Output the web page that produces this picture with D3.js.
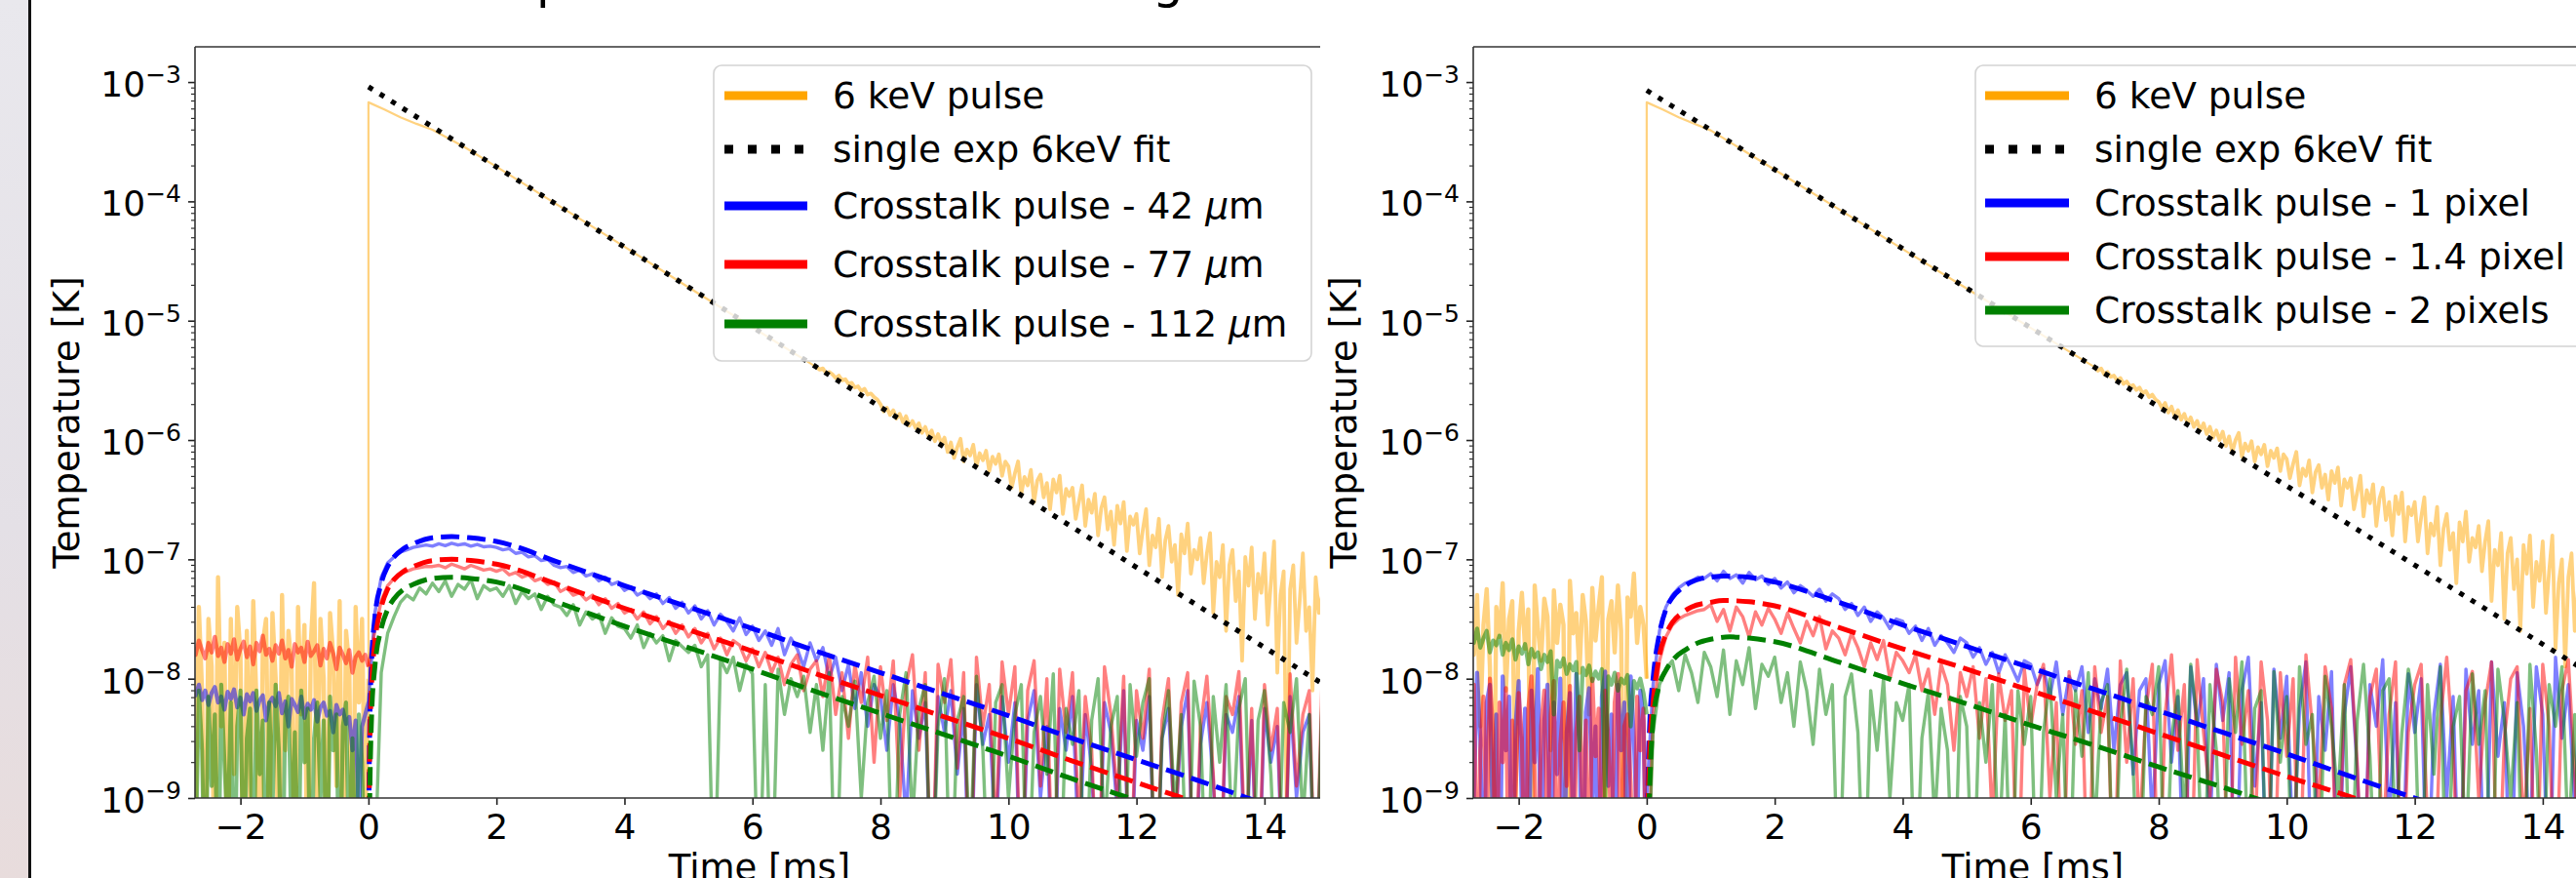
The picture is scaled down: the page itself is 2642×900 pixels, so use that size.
<!DOCTYPE html>
<html><head><meta charset="utf-8">
<script src="https://cdn.jsdelivr.net/npm/d3@7"></script>
<style>body{margin:0;background:#fff;} svg{display:block;} text{font-family:"DejaVu Sans",sans-serif;fill:#000;}</style>
</head><body><svg id="c" width="2642" height="900"></svg>
<script>
// ---------------- DATA (values are log10 of temperature in K) ----------------
const xTicks = [-2, 0, 2, 4, 6, 8, 10, 12, 14];
const yTickExps = [-3, -4, -5, -6, -7, -8, -9];
const xDomain = [-2.71, 14.87];
const yDomainExp = [-9, -2.705];
const PRE_STEP = 0.05, POST_STEP = 0.1, TAIL_START = 7.0, TAIL_STEP = 0.05;

const leftLabels = ["6 keV pulse", "single exp 6keV fit", "Crosstalk pulse - 42 ", "Crosstalk pulse - 77 ", "Crosstalk pulse - 112 "];
const leftUnits = ["", "", "\u03bc", "\u03bc", "\u03bc"];
const rightLabels = ["6 keV pulse", "single exp 6keV fit", "Crosstalk pulse - 1 pixel", "Crosstalk pulse - 1.4 pixel", "Crosstalk pulse - 2 pixels"];

// ----- left panel -----
const leftOrangePre = [-7.6,-9.2,-7.4,-8.1,-10,-7.5,-7.9,-10,-7.15,-8.4,-7.7,-10,-7.5,-8.8,-7.4,-7.8,-10,-7.6,-9.0,-7.35,-8.2,-10,-7.7,-7.5,-9.5,-7.45,-8.0,-10,-7.3,-8.6,-7.6,-7.9,-10,-7.4,-8.3,-7.55,-10,-7.7,-7.2,-9.1,-7.5,-8.0,-10,-7.45,-7.8,-8.9,-7.35,-10,-7.6,-7.9,-10,-7.4,-8.2,-7.5,-9.3,-8.0];
const leftOrangeHead = [[0,-3.17],[0.25,-3.23],[0.5,-3.295],[0.75,-3.35],[1,-3.40],[1.5,-3.545],[2,-3.71],[3,-4.045],[4,-4.38],[5,-4.72],[6,-5.055],[7,-5.39]];
const leftOrangeTail = [
-5.39,-5.41,-5.40,-5.44,-5.43,-5.45,-5.48,-5.46,-5.50,-5.49,-5.53,-5.52,-5.56,-5.55,-5.59,-5.57,-5.62,-5.61,-5.64,-5.66,
-5.70,-5.76,-5.73,-5.79,-5.75,-5.82,-5.78,-5.85,-5.80,-5.88,-5.84,-5.90,-5.86,-5.94,-5.89,-5.97,-5.92,-6.01,-5.95,-6.03,
-5.98,-6.10,-6.02,-6.15,-6.06,-5.99,-6.18,-6.08,-6.13,-6.04,-6.22,-6.11,-6.17,-6.09,-6.26,-6.14,-6.20,-6.12,-6.30,-6.18,
-6.22,-6.40,-6.28,-6.18,-6.45,-6.31,-6.38,-6.25,-6.52,-6.34,-6.29,-6.48,-6.36,-6.58,-6.33,-6.44,-6.30,-6.62,-6.41,-6.47,
-6.40,-6.66,-6.52,-6.38,-6.72,-6.50,-6.61,-6.45,-6.80,-6.57,-6.48,-6.75,-6.60,-6.88,-6.55,-6.70,-6.52,-6.93,-6.64,-6.71,
-6.62,-6.95,-6.75,-6.58,-7.05,-6.80,-6.90,-6.66,-7.15,-6.84,-6.72,-7.02,-6.88,-7.30,-6.79,-6.95,-6.70,-7.12,-6.92,-7.00,
-6.82,-7.20,-6.95,-6.78,-7.45,-7.02,-7.15,-6.88,-7.60,-7.05,-6.92,-7.35,-7.10,-7.85,-6.98,-7.22,-6.90,-7.50,-7.12,-7.28,
-6.95,-7.55,-7.20,-6.85,-7.95,-7.30,-7.10,-9.20,-7.25,-7.05,-7.70,-7.35,-6.95,-7.60,-7.40,-8.10,-7.15,-7.45,-7.30];
const leftBluePre = [-8.08,-8.14,-8.05,-8.18,-8.10,-8.22,-8.12,-8.07,-8.20,-8.15,-8.26,-8.11,-8.17,-8.09,-8.24,-8.16,-8.30,-8.13,-8.19,-8.12,-8.27,-8.18,-8.14,-8.35,-8.20,-8.16,-8.23,-8.12,-8.29,-8.19,-8.40,-8.17,-8.22,-8.28,-8.15,-8.33,-8.21,-8.26,-8.18,-8.36,-8.24,-8.20,-8.31,-8.27,-8.45,-8.22,-8.30,-8.26,-8.38,-8.32,-8.60,-8.35,-9.2,-8.40,-8.30,-8.20];
const leftBluePost = [
-8.2,-7.45,-7.15,-7.03,-6.98,-6.94,-6.92,-6.90,-6.89,-6.88,
-6.89,-6.87,-6.885,-6.865,-6.88,-6.87,-6.89,-6.875,-6.895,-6.89,
-6.90,-6.92,-6.91,-6.95,-6.94,-6.98,-6.97,-7.01,-7.00,-7.05,
-7.07,-7.06,-7.11,-7.09,-7.14,-7.12,-7.18,-7.15,-7.21,-7.19,
-7.26,-7.23,-7.30,-7.27,-7.33,-7.29,-7.37,-7.32,-7.41,-7.36,
-7.45,-7.39,-7.50,-7.43,-7.55,-7.46,-7.52,-7.60,-7.49,-7.63,
-7.56,-7.68,-7.60,-7.72,-7.58,-7.80,-7.66,-7.75,-7.90,-7.70,
-7.85,-7.74,-8.00,-7.82,-8.10,-7.88,-8.25,-7.95,-8.40,-8.05,
-8.15,-8.60,-8.05,-8.35,-9.20,-8.10,-8.50,-8.20,-10,-8.15,
-8.45,-8.10,-8.80,-8.25,-10,-8.05,-8.55,-8.30,-9.40,-8.15,
-8.70,-8.20,-10,-8.35,-8.10,-9.00,-8.40,-10,-8.25,-8.60,
-8.15,-9.50,-8.30,-8.75,-10,-8.20,-8.45,-9.10,-8.10,-10,
-8.35,-8.60,-8.15,-10,-8.50,-8.25,-9.30,-8.40,-8.10,-10,
-8.55,-8.20,-8.85,-10,-8.30,-8.45,-8.15,-9.60,-8.35,-10,
-8.25,-8.70,-8.40,-10,-8.15,-9.00,-8.45,-8.30,-10,-8.20];
const leftRedPre = [-7.72,-7.80,-7.68,-7.76,-7.83,-7.70,-7.78,-7.65,-7.81,-7.74,-7.86,-7.71,-7.79,-7.67,-7.84,-7.75,-7.69,-7.82,-7.73,-7.88,-7.70,-7.77,-7.64,-7.80,-7.75,-7.85,-7.72,-7.79,-7.68,-7.83,-7.76,-7.90,-7.71,-7.78,-7.74,-7.86,-7.69,-7.81,-7.77,-7.72,-7.89,-7.75,-7.83,-7.70,-7.79,-7.92,-7.74,-7.80,-7.87,-7.76,-7.95,-7.82,-7.78,-7.85,-7.80,-7.90];
const leftRedPost = [
-7.9,-7.6,-7.35,-7.22,-7.16,-7.12,-7.10,-7.08,-7.07,-7.06,
-7.06,-7.05,-7.07,-7.04,-7.06,-7.08,-7.05,-7.07,-7.09,-7.08,
-7.10,-7.08,-7.13,-7.11,-7.15,-7.13,-7.18,-7.16,-7.21,-7.19,
-7.27,-7.24,-7.30,-7.28,-7.34,-7.30,-7.38,-7.33,-7.41,-7.37,
-7.45,-7.42,-7.50,-7.44,-7.54,-7.48,-7.58,-7.52,-7.62,-7.55,
-7.65,-7.58,-7.70,-7.62,-7.75,-7.66,-7.80,-7.68,-7.72,-7.85,
-7.75,-7.90,-7.78,-7.95,-7.82,-8.05,-7.88,-7.80,-8.10,-7.92,
-7.85,-8.15,-7.80,-8.30,-7.95,-8.50,-7.88,-8.20,-7.82,-8.70,
-7.90,-8.35,-7.85,-9.0,-8.05,-7.80,-8.60,-7.95,-10,-7.88,
-8.20,-7.84,-8.75,-7.95,-10,-7.82,-8.40,-8.05,-9.30,-7.86,
-8.30,-7.90,-10,-8.10,-7.85,-8.90,-8.00,-10,-7.92,-8.45,
-7.95,-9.20,-8.15,-8.60,-10,-7.90,-8.30,-9.00,-7.98,-10,
-8.10,-8.50,-7.92,-10,-8.35,-8.00,-9.40,-8.20,-7.95,-10,
-8.40,-7.98,-8.80,-10,-8.15,-8.30,-7.94,-9.50,-8.25,-10,
-8.05,-8.60,-8.25,-10,-7.96,-8.90,-8.30,-8.10,-10,-8.00];
const leftGreenPre = [-8.2,-9.5,-8.1,-8.6,-10,-8.15,-8.9,-8.3,-10,-8.05,-8.7,-9.3,-8.2,-10,-8.4,-8.1,-9.8,-8.5,-8.25,-10,-8.1,-8.8,-8.35,-10,-8.2,-9.1,-8.05,-8.6,-10,-8.3,-8.15,-9.4,-8.45,-10,-8.1,-8.7,-8.25,-10,-8.5,-8.2,-9.0,-8.35,-10,-8.15,-8.6,-8.3,-10,-8.4,-8.2,-9.6,-8.5,-10,-8.3,-8.7,-10,-9.5];
const leftGreenPost = [
-10,-9.6,-7.95,-7.62,-7.48,-7.36,-7.30,-7.34,-7.24,-7.29,
-7.20,-7.27,-7.18,-7.31,-7.21,-7.25,-7.17,-7.33,-7.22,-7.26,
-7.24,-7.31,-7.22,-7.37,-7.27,-7.33,-7.29,-7.42,-7.31,-7.38,
-7.40,-7.47,-7.38,-7.55,-7.44,-7.50,-7.46,-7.62,-7.49,-7.56,
-7.58,-7.66,-7.55,-7.74,-7.62,-7.70,-7.64,-7.85,-7.68,-7.73,
-7.78,-7.72,-7.90,-7.80,-10,-7.84,-7.95,-7.82,-8.10,-7.88,
-7.96,-10,-8.05,-10,-7.92,-8.30,-8.00,-8.15,-7.98,-8.45,
-8.05,-8.60,-7.95,-10,-8.15,-8.40,-8.02,-9.0,-8.20,-7.98,
-8.50,-8.10,-10,-8.30,-7.95,-9.2,-8.25,-8.05,-10,-8.40,
-8.00,-10,-8.35,-8.15,-9.5,-7.98,-8.60,-10,-8.20,-8.05,
-9.0,-8.30,-8.05,-10,-8.45,-8.15,-8.80,-7.96,-10,-8.25,
-8.55,-8.10,-10,-8.35,-8.00,-9.30,-8.40,-8.15,-10,-8.05,
-8.65,-8.20,-8.00,-10,-8.50,-8.10,-9.10,-8.30,-10,-8.02,
-8.40,-10,-8.15,-8.70,-8.05,-9.40,-8.25,-8.00,-10,-8.35,
-8.10,-8.80,-10,-8.20,-8.45,-8.00,-9.20,-8.30,-10,-8.15];
const leftExpFit = [[0,-3.04],[14.87,-8.03]];
const leftBlueFit = [[0,-9.6],[0.02,-8.4],[0.05,-7.85],[0.1,-7.49],[0.2,-7.2],[0.3,-7.06],[0.4,-6.98],[0.55,-6.91],[0.7,-6.87],[1.0,-6.82],[1.3,-6.81],[1.6,-6.82],[2,-6.85],[3,-7.03],[4,-7.22],[5,-7.40],[6,-7.58],[7,-7.77],[8,-7.95],[9,-8.13],[10,-8.31],[11,-8.50],[12,-8.68],[13,-8.86],[14,-9.05],[15,-9.23]];
const leftRedFit = [[0,-9.8],[0.02,-8.6],[0.05,-8.05],[0.1,-7.7],[0.2,-7.40],[0.3,-7.25],[0.4,-7.17],[0.55,-7.10],[0.7,-7.06],[1.0,-7.01],[1.3,-7.0],[1.6,-7.01],[2,-7.04],[3,-7.22],[4,-7.41],[5,-7.59],[6,-7.77],[7,-7.96],[8,-8.14],[9,-8.32],[10,-8.50],[11,-8.69],[12,-8.87],[13,-9.05],[14,-9.24],[15,-9.42]];
const leftGreenFit = [[0,-10],[0.02,-9.0],[0.05,-8.3],[0.1,-7.9],[0.2,-7.58],[0.3,-7.42],[0.4,-7.33],[0.55,-7.25],[0.7,-7.21],[1.0,-7.16],[1.3,-7.15],[1.6,-7.16],[2,-7.19],[3,-7.37],[4,-7.56],[5,-7.74],[6,-7.92],[7,-8.11],[8,-8.29],[9,-8.47],[10,-8.65],[11,-8.84],[12,-9.02],[13,-9.20],[14,-9.39],[15,-9.57]];

// ----- right panel -----
const rightOrangePre = [-7.45,-7.80,-7.30,-8.4,-7.55,-7.25,-7.90,-10,-7.40,-7.65,-7.20,-8.1,-7.50,-7.35,-9.0,-7.60,-7.28,-7.75,-7.42,-10,-7.22,-7.58,-7.85,-7.33,-7.48,-8.6,-7.26,-7.70,-7.38,-7.55,-10,-7.18,-7.62,-7.45,-7.95,-7.30,-7.52,-8.3,-7.24,-7.68,-7.40,-7.15,-9.2,-7.50,-7.35,-7.78,-7.22,-7.60,-10,-7.32,-7.48,-7.12,-7.70,-7.40,-7.55,-8.0];
const rightOrangeHead = [[0,-3.17],[0.25,-3.23],[0.5,-3.295],[0.75,-3.35],[1,-3.405],[1.5,-3.57],[2,-3.735],[3,-4.065],[4,-4.40],[5,-4.73],[6,-5.06],[7,-5.39]];
const rightOrangeTail = [
-5.39,-5.42,-5.40,-5.45,-5.43,-5.47,-5.46,-5.50,-5.48,-5.53,-5.51,-5.55,-5.54,-5.58,-5.56,-5.61,-5.59,-5.64,-5.62,-5.66,
-5.68,-5.73,-5.69,-5.77,-5.72,-5.80,-5.75,-5.83,-5.78,-5.86,-5.81,-5.89,-5.84,-5.92,-5.86,-5.95,-5.89,-5.98,-5.92,-6.00,
-5.93,-6.05,-5.97,-6.10,-6.00,-5.94,-6.14,-6.03,-6.09,-6.01,-6.18,-6.06,-6.12,-6.04,-6.22,-6.09,-6.15,-6.07,-6.26,-6.12,
-6.16,-6.32,-6.20,-6.10,-6.38,-6.24,-6.30,-6.17,-6.44,-6.27,-6.21,-6.40,-6.29,-6.50,-6.26,-6.36,-6.23,-6.55,-6.33,-6.40,
-6.32,-6.58,-6.44,-6.30,-6.64,-6.42,-6.53,-6.37,-6.72,-6.49,-6.40,-6.67,-6.52,-6.80,-6.47,-6.62,-6.44,-6.85,-6.56,-6.63,
-6.52,-6.85,-6.65,-6.48,-6.95,-6.70,-6.80,-6.56,-7.05,-6.74,-6.62,-6.92,-6.78,-7.20,-6.69,-6.85,-6.60,-7.02,-6.82,-6.90,
-6.72,-7.10,-6.85,-6.68,-7.35,-6.92,-7.05,-6.78,-7.50,-6.95,-6.82,-7.25,-7.00,-7.60,-6.88,-7.12,-6.80,-7.40,-7.02,-7.18,
-6.85,-7.45,-7.10,-6.80,-7.75,-7.20,-7.00,-7.90,-7.15,-6.95,-7.60,-7.25,-6.90,-7.50,-7.30,-7.85,-7.05,-7.35,-7.20];
const rightBluePre = [-8.1,-9.0,-7.95,-8.5,-10,-8.2,-8.05,-9.4,-8.3,-10,-7.98,-8.6,-8.15,-10,-8.4,-8.02,-9.1,-8.25,-10,-8.1,-8.7,-7.92,-9.6,-8.35,-8.05,-10,-8.2,-8.8,-8.0,-10,-8.45,-8.12,-9.2,-7.96,-8.55,-10,-8.28,-8.08,-9.0,-8.4,-10,-8.15,-7.94,-8.9,-8.3,-10,-8.05,-8.6,-8.2,-10,-7.98,-8.5,-9.3,-8.1,-8.35,-10];
const rightBluePost = [
-9.0,-8.05,-7.6,-7.40,-7.30,-7.24,-7.20,-7.18,-7.15,-7.16,
-7.12,-7.18,-7.10,-7.16,-7.13,-7.20,-7.11,-7.17,-7.14,-7.21,
-7.16,-7.24,-7.19,-7.28,-7.22,-7.26,-7.31,-7.25,-7.35,-7.29,
-7.33,-7.42,-7.37,-7.47,-7.40,-7.52,-7.44,-7.49,-7.58,-7.50,
-7.52,-7.62,-7.56,-7.68,-7.58,-7.72,-7.64,-7.70,-7.78,-7.66,
-7.70,-7.82,-7.74,-7.88,-7.78,-7.95,-7.80,-7.90,-8.02,-7.85,
-7.88,-8.05,-7.92,-8.15,-7.86,-8.30,-7.98,-8.10,-7.90,-8.45,
-8.00,-8.25,-7.92,-8.60,-8.05,-7.95,-8.80,-8.10,-8.00,-9.2,
-8.05,-7.85,-8.70,-8.15,-10,-7.90,-8.40,-8.00,-9.3,-7.88,
-8.35,-7.95,-10,-8.10,-7.82,-8.90,-8.20,-10,-7.92,-8.50,
-7.98,-9.5,-8.25,-7.86,-10,-8.15,-8.60,-7.94,-10,-8.30,
-7.90,-8.75,-10,-8.05,-8.40,-7.84,-9.2,-8.20,-10,-7.96,
-8.45,-8.00,-10,-8.30,-7.88,-9.0,-8.15,-10,-7.92,-8.55,
-8.10,-10,-7.86,-8.65,-8.20,-10,-7.95,-8.40,-9.4,-7.90,
-8.30,-10,-7.82,-8.50,-8.05,-9.1,-7.78,-8.35,-10,-8.00];
const rightRedPre = [-8.3,-8.05,-10,-8.6,-8.15,-9.3,-8.0,-8.45,-10,-8.2,-8.7,-8.08,-10,-8.35,-9.0,-8.12,-8.5,-10,-8.25,-7.98,-8.8,-10,-8.4,-8.1,-9.5,-8.3,-8.02,-10,-8.55,-8.2,-8.9,-8.06,-10,-8.45,-8.15,-9.2,-8.35,-10,-8.0,-8.65,-8.25,-10,-8.1,-8.5,-9.4,-8.2,-7.96,-10,-8.4,-8.3,-8.9,-10,-8.15,-8.6,-8.25,-10];
const rightRedPost = [
-10,-8.3,-7.85,-7.65,-7.55,-7.50,-7.47,-7.45,-7.43,-7.42,
-7.38,-7.52,-7.42,-7.60,-7.40,-7.48,-7.65,-7.44,-7.55,-7.41,
-7.50,-7.62,-7.45,-7.58,-7.70,-7.52,-7.64,-7.48,-7.75,-7.60,
-7.66,-7.80,-7.62,-7.74,-7.90,-7.70,-7.84,-7.68,-8.00,-7.78,
-7.85,-7.95,-7.80,-8.10,-7.92,-8.30,-7.88,-8.05,-8.60,-7.95,
-8.15,-7.90,-8.50,-8.00,-9.2,-7.96,-8.35,-8.10,-10,-7.92,
-8.40,-8.05,-7.88,-9.0,-8.20,-10,-7.94,-8.55,-8.10,-10,
-7.90,-8.45,-8.15,-10,-7.85,-8.70,-8.00,-9.3,-8.25,-7.88,
-10,-8.30,-7.80,-8.60,-8.05,-10,-7.84,-8.45,-9.0,-7.92,
-8.20,-10,-7.82,-8.55,-8.10,-9.4,-7.86,-8.35,-10,-7.95,
-8.65,-8.00,-10,-7.80,-8.40,-9.1,-7.90,-8.25,-10,-8.05,
-7.84,-8.70,-10,-8.15,-7.92,-9.5,-8.30,-7.86,-10,-8.45,
-8.05,-7.88,-9.2,-10,-8.35,-7.82,-8.60,-10,-8.10,-7.94,
-9.0,-8.20,-7.86,-10,-8.50,-8.00,-7.90,-9.3,-8.25,-10,
-7.88,-8.40,-10,-8.10,-7.84,-8.80,-10,-8.20,-7.96,-8.55];
const rightGreenPre = [-7.62,-7.70,-7.58,-7.74,-7.66,-7.60,-7.78,-7.68,-7.72,-7.64,-7.80,-7.70,-7.76,-7.67,-7.84,-7.73,-7.79,-7.71,-7.88,-7.75,-7.82,-7.78,-7.92,-7.80,-7.86,-7.77,-8.3,-7.85,-7.90,-7.83,-7.96,-7.88,-7.93,-7.86,-8.6,-7.91,-7.97,-7.89,-8.02,-7.94,-8.00,-7.92,-9.0,-7.98,-8.05,-7.95,-8.10,-8.00,-8.04,-7.97,-8.4,-8.02,-8.08,-8.00,-8.12,-8.3];
const rightGreenPost = [
-10,-8.45,-8.05,-7.92,-7.85,-8.10,-7.80,-7.95,-8.20,-7.78,
-7.90,-8.15,-7.76,-8.30,-7.85,-8.05,-7.74,-8.25,-7.88,-7.98,
-7.82,-8.20,-7.95,-8.40,-7.86,-8.10,-8.55,-7.92,-8.30,-8.05,
-10,-8.15,-7.96,-8.45,-10,-8.10,-8.60,-8.00,-9.0,-8.20,
-8.35,-8.05,-10,-8.50,-8.12,-9.2,-8.25,-8.60,-10,-8.15,
-8.40,-10,-8.20,-8.70,-8.05,-9.5,-8.30,-10,-8.10,-8.55,
-8.15,-10,-8.45,-8.00,-9.0,-8.30,-10,-8.10,-8.65,-7.95,
-9.3,-8.20,-8.05,-10,-8.40,-7.92,-8.75,-10,-8.15,-8.30,
-7.90,-10,-8.50,-8.10,-9.2,-7.88,-8.35,-10,-8.05,-8.60,
-10,-8.00,-8.45,-7.86,-9.6,-8.25,-8.10,-10,-7.94,-8.70,
-8.15,-10,-7.90,-8.55,-8.30,-10,-7.98,-8.40,-9.0,-8.05,
-10,-8.35,-7.88,-8.65,-10,-8.10,-8.00,-9.3,-8.45,-7.92,
-8.25,-10,-8.05,-8.80,-7.90,-10,-8.40,-8.15,-9.5,-7.96,
-8.55,-8.10,-10,-7.92,-8.35,-9.0,-8.20,-10,-7.88,-8.60,
-10,-8.05,-8.40,-7.90,-9.4,-8.30,-10,-8.00,-8.50,-7.86];
const rightExpFit = [[0,-3.07],[14.87,-8.0]];
const rightBlueFit = [[0,-10],[0.02,-8.9],[0.05,-8.35],[0.1,-8.0],[0.2,-7.62],[0.3,-7.42],[0.4,-7.32],[0.55,-7.24],[0.7,-7.19],[0.86,-7.16],[1.0,-7.15],[1.2,-7.14],[1.6,-7.15],[2,-7.19],[3,-7.36],[4,-7.55],[5,-7.73],[6,-7.91],[7,-8.09],[8,-8.27],[9,-8.45],[10,-8.63],[11,-8.82],[12,-9.0],[13,-9.18],[14,-9.36],[15,-9.54]];
const rightRedFit = [[0,-10],[0.02,-9.1],[0.05,-8.55],[0.1,-8.2],[0.2,-7.8],[0.3,-7.63],[0.4,-7.53],[0.55,-7.45],[0.7,-7.40],[1.0,-7.36],[1.2,-7.345],[1.6,-7.355],[2,-7.39],[3,-7.57],[4,-7.75],[5,-7.92],[6,-8.10],[7,-8.28],[8,-8.46],[9,-8.64],[10,-8.82],[11,-8.99],[12,-9.17],[13,-9.35],[14,-9.53],[15,-9.7]];
const rightGreenFit = [[0,-10],[0.02,-9.4],[0.05,-8.85],[0.1,-8.35],[0.2,-8.05],[0.3,-7.93],[0.45,-7.82],[0.6,-7.76],[0.8,-7.70],[1.0,-7.67],[1.3,-7.65],[1.6,-7.66],[2,-7.69],[3,-7.86],[4,-8.04],[5,-8.21],[6,-8.39],[7,-8.56],[8,-8.74],[9,-8.91],[10,-9.09],[11,-9.26],[12,-9.44],[13,-9.61],[14,-9.79],[15,-9.96]];

// ---------------- RENDER ----------------
const COLORS = {orange:"#ffa500", blue:"#0000ff", red:"#ff0000", green:"#008000", black:"#000"};
const TOP = 48, BOTTOM = 818;
const svg = d3.select("#c");
const defs = svg.append("defs");
const grad = defs.append("linearGradient").attr("id","bg").attr("x1",0).attr("y1",0).attr("x2",0).attr("y2",1);
grad.append("stop").attr("offset","0%").attr("stop-color","#e9e8ed");
grad.append("stop").attr("offset","60%").attr("stop-color","#e4e0e6");
grad.append("stop").attr("offset","100%").attr("stop-color","#e8dcdc");
svg.append("rect").attr("x",0).attr("y",0).attr("width",29).attr("height",900).attr("fill","url(#bg)");
svg.append("rect").attr("x",29).attr("y",0).attr("width",3).attr("height",900).attr("fill","#111");

// cut-off title (only descenders visible)
svg.append("text").attr("x",550).attr("y",-2).attr("font-size",50).text("p");
svg.append("text").attr("x",1182).attr("y",-2).attr("font-size",50).text("g");

const preSeries = a => a.map((v,i) => [-(a.length-1-i)*PRE_STEP, v]);
const postSeries = a => a.map((v,i) => [i*POST_STEP, v]);
const tailSeries = a => a.map((v,i) => [TAIL_START + i*TAIL_STEP, v]);

const panels = [
  {id:"L", x0:200, x1:1354, legend:{x:732, w:613, y:67, h:303, rows:[98,153,211,271,332], hx0:743, hx1:828, tx:854},
   labels:leftLabels, units:leftUnits, ylabX:81,
   orangePre:preSeries(leftOrangePre), orangeHead:[[0,leftOrangePre[leftOrangePre.length-1]], ...leftOrangeHead], orangeTail:tailSeries(leftOrangeTail),
   bluePre:preSeries(leftBluePre), bluePost:postSeries(leftBluePost),
   redPre:preSeries(leftRedPre), redPost:postSeries(leftRedPost),
   greenPre:preSeries(leftGreenPre), greenPost:postSeries(leftGreenPost),
   fits:{exp:leftExpFit, blue:leftBlueFit, red:leftRedFit, green:leftGreenFit}},
  {id:"R", x0:1511, x1:2665, legend:{x:2026, w:660, y:67, h:288, rows:[98,153,208,263,318], hx0:2036, hx1:2122, tx:2148},
   labels:rightLabels, units:["","","","",""], ylabX:1391,
   orangePre:preSeries(rightOrangePre), orangeHead:[[0,rightOrangePre[rightOrangePre.length-1]], ...rightOrangeHead], orangeTail:tailSeries(rightOrangeTail),
   bluePre:preSeries(rightBluePre), bluePost:postSeries(rightBluePost),
   redPre:preSeries(rightRedPre), redPost:postSeries(rightRedPost),
   greenPre:preSeries(rightGreenPre), greenPost:postSeries(rightGreenPost),
   fits:{exp:rightExpFit, blue:rightBlueFit, red:rightRedFit, green:rightGreenFit}}
];

panels.forEach(p => {
  const x = d3.scaleLinear().domain(xDomain).range([p.x0, p.x1]);
  const y = d3.scaleLog().domain([10**yDomainExp[0], 10**yDomainExp[1]]).range([BOTTOM, TOP]);
  const line = d3.line().x(d => x(d[0])).y(d => y(10**d[1]));
  const smooth = d3.line().x(d => x(d[0])).y(d => y(10**d[1])).curve(d3.curveMonotoneX);

  defs.append("clipPath").attr("id","clip"+p.id).append("rect")
    .attr("x",p.x0).attr("y",TOP).attr("width",p.x1-p.x0).attr("height",BOTTOM-TOP);
  const g = svg.append("g").attr("clip-path","url(#clip"+p.id+")");

  const noisy = [["orange",p.orangePre,4.4],["orange",p.orangeHead,2.2],["orange",p.orangeTail,3.8],
                 ["blue",p.bluePre,4.2],["blue",p.bluePost,3.4],
                 ["red",p.redPre,4.2],["red",p.redPost,3.4],
                 ["green",p.greenPre,4.2],["green",p.greenPost,3.4]];
  noisy.forEach(([c,data,w]) => {
    g.append("path").attr("d",line(data)).attr("fill","none").attr("stroke",COLORS[c])
     .attr("stroke-opacity",0.5).attr("stroke-width",w).attr("stroke-linejoin","round");
  });
  ["blue","red","green"].forEach(c => {
    g.append("path").attr("d",smooth(p.fits[c])).attr("fill","none").attr("stroke",COLORS[c])
     .attr("stroke-width",5).attr("stroke-dasharray","19,8");
  });
  g.append("path").attr("d",line(p.fits.exp)).attr("fill","none").attr("stroke","#000")
   .attr("stroke-width",5.2).attr("stroke-dasharray","5.2,8.6");

  // axes
  const ax = svg.append("g").attr("transform",`translate(0,${BOTTOM})`)
    .call(d3.axisBottom(x).tickValues(xTicks).tickSize(7).tickPadding(9)
      .tickFormat(d => d < 0 ? "\u2212" + (-d) : String(d)));
  ax.select(".domain").remove();
  ax.selectAll("line").attr("stroke","#222").attr("stroke-width",1.6);
  ax.selectAll("text").attr("font-size",36).attr("font-family","DejaVu Sans").attr("fill","#000");

  const majors = yTickExps.map(e => 10**e);
  const minors = [];
  for (let e = -9; e <= -3; e++) for (let m = 2; m <= 9; m++) { const v = m * 10**e; if (v < 10**yDomainExp[1]) minors.push(v); }
  const ay = svg.append("g").attr("transform",`translate(${p.x0},0)`)
    .call(d3.axisLeft(y).tickValues(majors).tickSize(7).tickFormat(() => ""));
  ay.select(".domain").remove();
  ay.selectAll("line").attr("stroke","#222").attr("stroke-width",1.6);
  const aym = svg.append("g").attr("transform",`translate(${p.x0},0)`)
    .call(d3.axisLeft(y).tickValues(minors).tickSize(4).tickFormat(() => ""));
  aym.select(".domain").remove();
  aym.selectAll("line").attr("stroke","#222").attr("stroke-width",1.1);

  yTickExps.forEach(e => {
    const t = svg.append("text").attr("x",p.x0-14).attr("y",y(10**e)+15)
      .attr("text-anchor","end").attr("font-size",36);
    t.append("tspan").text("10");
    t.append("tspan").attr("dy",-14).attr("font-size",25).text("\u2212" + (-e));
  });

  // spines
  const sp = svg.append("g").attr("stroke","#333").attr("stroke-width",1.6);
  sp.append("line").attr("x1",p.x0).attr("x2",p.x1).attr("y1",TOP).attr("y2",TOP);
  sp.append("line").attr("x1",p.x0).attr("x2",p.x1).attr("y1",BOTTOM).attr("y2",BOTTOM);
  sp.append("line").attr("x1",p.x0).attr("x2",p.x0).attr("y1",TOP).attr("y2",BOTTOM);

  // axis labels
  svg.append("text").attr("x",(p.x0+p.x1)/2 + (p.id==="R" ? -3 : 2)).attr("y",902).attr("text-anchor","middle")
    .attr("font-size",37).text("Time [ms]");
  svg.append("text").attr("transform",`translate(${p.ylabX},${(TOP+BOTTOM)/2}) rotate(-90)`)
    .attr("text-anchor","middle").attr("font-size",37).text("Temperature [K]");

  // legend
  const L = p.legend;
  const lg = svg.append("g");
  lg.append("rect").attr("x",L.x).attr("y",L.y).attr("width",L.w).attr("height",L.h).attr("rx",8)
    .attr("fill","#fff").attr("fill-opacity",0.8).attr("stroke","#d4d4d4").attr("stroke-width",1.6);
  const hcol = ["orange","black","blue","red","green"];
  p.labels.forEach((lab,i) => {
    const hy = L.rows[i];
    const hl = lg.append("line").attr("x1",L.hx0).attr("x2",L.hx1).attr("y1",hy).attr("y2",hy)
      .attr("stroke",COLORS[hcol[i]]).attr("stroke-width",9);
    if (i === 1) hl.attr("stroke-dasharray","9,15");
    const t = lg.append("text").attr("x",L.tx).attr("y",hy+13).attr("font-size",37.5);
    t.append("tspan").text(lab);
    if (p.units[i]) { t.append("tspan").attr("font-style","italic").text(p.units[i]); t.append("tspan").text("m"); }
  });
});
</script></body></html>
